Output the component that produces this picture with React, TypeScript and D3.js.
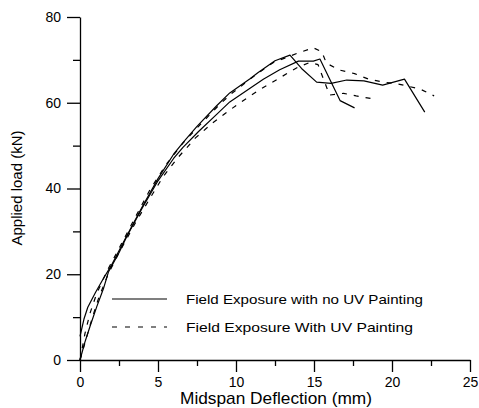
import React, { useRef, useEffect } from 'react';
import * as d3 from 'd3';

// specimen curves, [deflection (mm), load (kN)]
const noUv1: [number, number][] = [
    [0, 5.5], [0.25, 9.5], [0.5, 12.3], [1, 15.8], [1.5, 19], [2, 22], [3, 29], [4, 35.8],
    [5, 42.3], [6, 48], [6.6, 50.7], [7.5, 54.5], [8.76, 59.3], [9.6, 62.3], [10.9, 65.6],
    [11.4, 67], [12.5, 69.8], [13.46, 71.1], [14.2, 68], [15.17, 64.8], [16.1, 64.5], [17.1, 65.3],
    [18.2, 65.1], [19.4, 64.1], [20.8, 65.5], [22.1, 57.8],
];
const noUv2: [number, number][] = [
    [0, 0], [0.3, 4], [0.64, 7.8], [1.07, 12.4], [1.5, 16.6], [1.83, 20.6], [2.5, 25], [3, 28.8],
    [4, 35.5], [5, 41.8], [6, 47], [6.6, 49.6], [7.6, 53.3], [8.76, 57.3], [9.6, 60.2], [10.9, 63.4],
    [11.75, 65.5], [12.8, 67.7], [14.0, 69.7], [14.96, 69.7], [15.38, 70.2], [16.67, 60.5], [17.6, 58.8],
];
const withUv1: [number, number][] = [
    [0, 0], [0.32, 6.2], [0.64, 10.9], [1.07, 15.5], [1.71, 20.6], [2.5, 26], [3.5, 33], [4.5, 39.8],
    [5.5, 45.5], [6.6, 50.6], [7.6, 54.5], [8.76, 58.9], [9.6, 61.8], [10.9, 65.5], [11.5, 67.1],
    [12.4, 69.4], [13.9, 71.5], [14.96, 72.8], [15.5, 71.9], [15.8, 69.2], [16.67, 67.6],
    [17.6, 66.8], [18.5, 65.5], [19.5, 64.8], [20.5, 64.3], [21.8, 63.2], [22.7, 61.6],
];
const withUv2: [number, number][] = [
    [0, 0], [0.4, 5], [0.8, 10], [1.2, 14.5], [1.8, 20], [2.5, 25], [3.63, 32.5], [4.7, 39],
    [5.34, 42.8], [6.3, 47.3], [7.4, 51.8], [8.5, 55.3], [9.6, 58.3], [10.5, 60.6], [11.5, 63],
    [12.8, 65.8], [13.97, 68.3], [14.74, 69.4], [15.26, 68.9], [15.4, 67.5], [16.0, 61.8],
    [16.9, 62.2], [17.7, 61.6], [18.8, 60.9],
];

const xMajor = [0, 5, 10, 15, 20, 25];
const xMinor = [2.5, 7.5, 12.5, 17.5, 22.5];
const yMajor = [0, 20, 40, 60, 80];
const yMinor = [10, 30, 50, 70];
const legendLabels = ['Field Exposure with no UV Painting', 'Field Exposure With UV Painting'];

const W = 479;
const H = 408;
const font = '"Liberation Sans", Arial, sans-serif';

const App = () => {
    const svgRef = useRef<SVGSVGElement>(null);

    useEffect(() => {
        if (!svgRef.current) {
            return;
        }
        const svg = d3.select(svgRef.current);
        svg.selectAll('*').remove();

        const x = d3.scaleLinear().domain([0, 25]).range([80, 470]);
        const y = d3.scaleLinear().domain([0, 80]).range([360, 17]);

        // axes
        const xAxis = svg.append('g').attr('transform', `translate(0,${y(0)})`)
            .call(d3.axisBottom(x).tickValues(xMajor).tickSize(12).tickSizeOuter(0).tickPadding(5));
        svg.append('g').attr('transform', `translate(0,${y(0)})`)
            .call(d3.axisBottom(x).tickValues(xMinor).tickSize(6).tickSizeOuter(0).tickFormat(() => ''))
            .select('.domain').remove();
        const yAxis = svg.append('g').attr('transform', `translate(${x(0)},0)`)
            .call(d3.axisLeft(y).tickValues(yMajor).tickSize(13).tickSizeOuter(0).tickPadding(6));
        svg.append('g').attr('transform', `translate(${x(0)},0)`)
            .call(d3.axisLeft(y).tickValues(yMinor).tickSize(7).tickSizeOuter(0).tickFormat(() => ''))
            .select('.domain').remove();

        svg.selectAll('.tick line').attr('stroke', '#000').attr('stroke-width', 1.3);
        svg.selectAll('.domain').attr('stroke', '#000').attr('stroke-width', 1.3);
        [xAxis, yAxis].forEach(a => a.selectAll('text')
            .attr('font-family', font).attr('font-size', 14).attr('fill', '#000'));

        // curves
        const line = d3.line<[number, number]>().x(d => x(d[0])).y(d => y(d[1]));
        const curves = [
            { data: noUv1, dash: null },
            { data: noUv2, dash: null },
            { data: withUv1, dash: '5,7' },
            { data: withUv2, dash: '5,7' },
        ];
        curves.forEach(c => {
            svg.append('path')
                .attr('d', line(c.data))
                .attr('fill', 'none')
                .attr('stroke', '#000')
                .attr('stroke-width', 1.2)
                .attr('stroke-linejoin', 'round')
                .attr('stroke-dasharray', c.dash);
        });

        // legend
        const legendY = [299, 327];
        const textLen = [237, 227];
        legendLabels.forEach((label, i) => {
            svg.append('line')
                .attr('x1', 112).attr('x2', 167)
                .attr('y1', legendY[i]).attr('y2', legendY[i])
                .attr('stroke', '#000').attr('stroke-width', 1.2)
                .attr('stroke-dasharray', i === 1 ? '5,8' : null);
            svg.append('text')
                .attr('x', 186).attr('y', legendY[i] + 5)
                .attr('font-family', font).attr('font-size', 13)
                .attr('textLength', textLen[i]).attr('lengthAdjust', 'spacingAndGlyphs')
                .text(label);
        });

        // axis titles
        svg.append('text')
            .attr('x', 180).attr('y', 404)
            .attr('font-family', font).attr('font-size', 17)
            .attr('textLength', 192).attr('lengthAdjust', 'spacingAndGlyphs')
            .text('Midspan Deflection (mm)');
        svg.append('text')
            .attr('transform', 'translate(22,188) rotate(-90)')
            .attr('text-anchor', 'middle')
            .attr('font-family', font).attr('font-size', 15)
            .text('Applied load (kN)');
    }, []);

    return (
        <svg
            ref={svgRef}
            width={W}
            height={H}
            style={{ position: 'absolute', left: 0, top: 0, background: '#fff' }}
        />
    );
};

export default App;
